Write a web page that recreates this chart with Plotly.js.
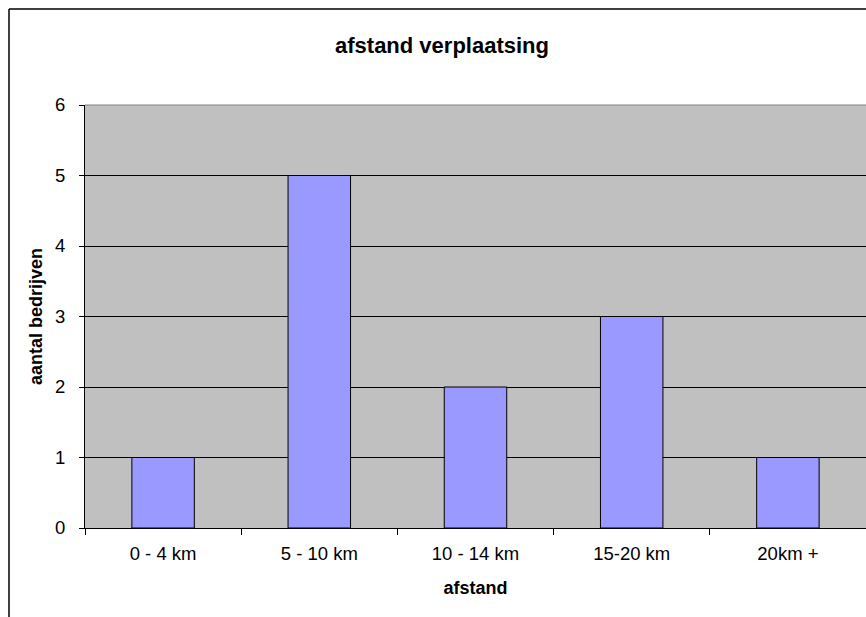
<!DOCTYPE html>
<html>
<head>
<meta charset="utf-8">
<script src="https://cdn.plot.ly/plotly-3.0.1.min.js"></script>
<style>
  html, body { margin: 0; padding: 0; background: #fff; }
  #chart { width: 866px; height: 617px; }
</style>
</head>
<body>
<div id="chart"></div>
<script>
const categories = ["0 - 4 km", "5 - 10 km", "10 - 14 km", "15-20 km", "20km +"];
const counts = [1, 5, 2, 3, 1];
const yTicks = [0, 1, 2, 3, 4, 5, 6];
const chartTitle = "afstand verplaatsing";
const xTitle = "afstand";
const yTitle = "aantal bedrijven";

const FONT = "'Liberation Sans', Arial, sans-serif";

const trace = {
  type: "bar",
  x: categories,
  y: counts,
  marker: { color: "#9999FF", line: { color: "#000000", width: 1 } },
  hoverinfo: "x+y"
};

// plot area in pixels: left 85, right 866, top 105, bottom 528
const L = 85, R = 866, T = 105, B = 528;
const px2x = p => (p - L) / (R - L);
const py2y = p => (B - p) / (B - T);

const layout = {
  width: 866,
  height: 617,
  margin: { l: L, r: 866 - R, t: T, b: 617 - B, pad: 0 },
  paper_bgcolor: "#ffffff",
  plot_bgcolor: "#C0C0C0",
  bargap: 0.6,
  showlegend: false,
  font: { family: FONT, color: "#000000", size: 18 },
  title: {
    text: "<b>" + chartTitle + "</b>",
    font: { family: FONT, size: 22, color: "#000000" },
    xref: "paper", x: px2x(442), xanchor: "center",
    yref: "container", y: 1 - 45 / 617, yanchor: "middle"
  },
  xaxis: {
    type: "category",
    tickson: "boundaries",
    ticks: "outside",
    ticklen: 6,
    tickwidth: 1,
    tickcolor: "#000000",
    showline: true,
    linecolor: "#000000",
    linewidth: 1,
    showgrid: false,
    zeroline: false,
    tickfont: { family: FONT, size: 18.5, color: "#000000" },
    ticklabelstandoff: 9,
    title: { text: "<b>" + xTitle + "</b>", font: { family: FONT, size: 18, color: "#000000" }, standoff: 18 },
    fixedrange: true
  },
  yaxis: {
    range: [0, 6],
    tickvals: yTicks,
    ticktext: yTicks.map(String),
    ticks: "outside",
    ticklen: 5,
    tickwidth: 1,
    tickcolor: "#000000",
    showline: true,
    linecolor: "#000000",
    linewidth: 1,
    showgrid: true,
    gridcolor: "#000000",
    gridwidth: 1,
    zeroline: false,
    tickfont: { family: FONT, size: 18.5, color: "#000000" },
    ticklabelstandoff: 10,
    title: { text: "<b>" + yTitle + "</b>", font: { family: FONT, size: 18, color: "#000000" }, standoff: 7 },
    fixedrange: true
  },
  shapes: [
    // gray plot-area border on top
    { type: "line", xref: "paper", yref: "paper", x0: 0, x1: 1, y0: 1, y1: 1,
      line: { color: "#808080", width: 1 }, layer: "above" },
    // outer chart border (left and top)
    { type: "line", xref: "paper", yref: "paper", x0: px2x(9), x1: px2x(866), y0: py2y(9), y1: py2y(9),
      line: { color: "#000000", width: 1.5 } },
    { type: "line", xref: "paper", yref: "paper", x0: px2x(9), x1: px2x(9), y0: py2y(9), y1: py2y(617),
      line: { color: "#000000", width: 1.5 } }
  ]
};

Plotly.newPlot("chart", [trace], layout, { displayModeBar: false, staticPlot: true });
</script>
</body>
</html>
